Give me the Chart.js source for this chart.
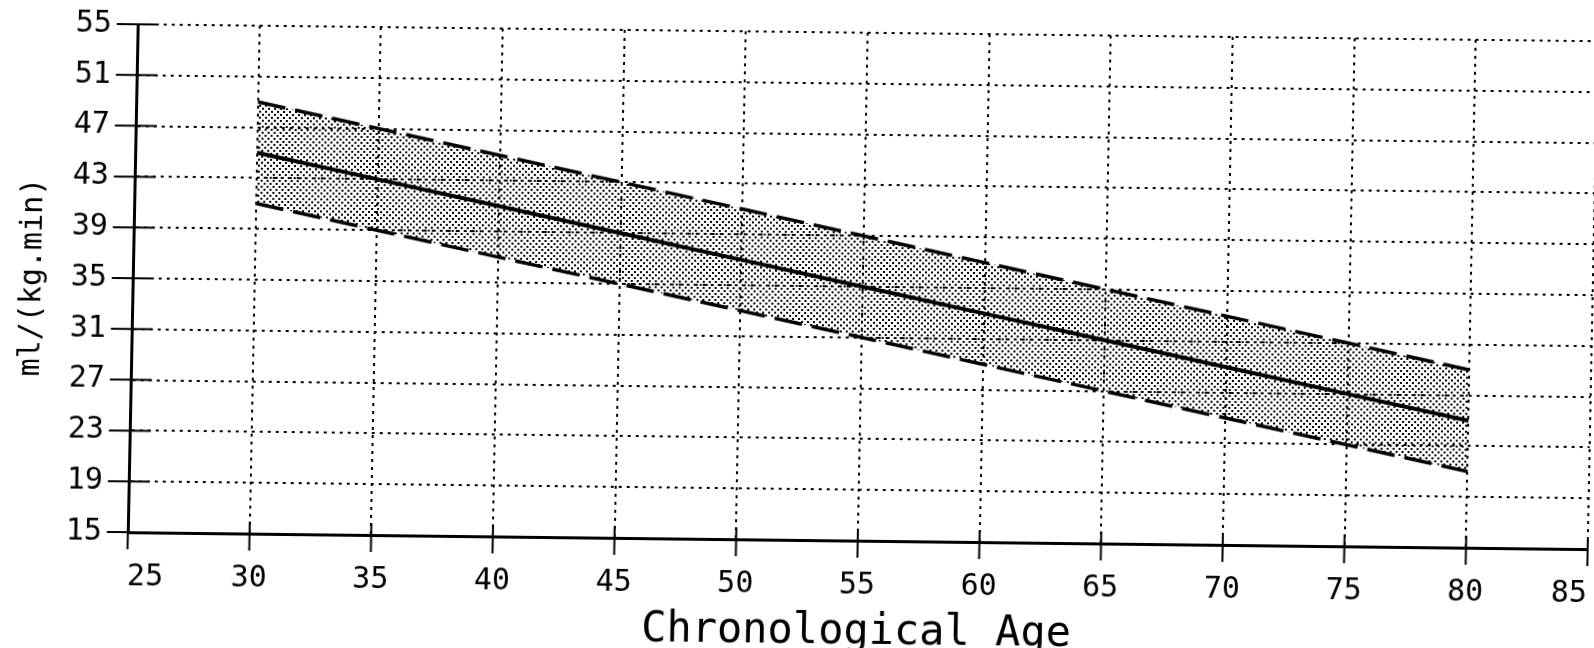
<!DOCTYPE html>
<html>
<head>
<meta charset="utf-8">
<script src="https://cdn.jsdelivr.net/npm/chart.js@4"></script>
<style>
  html, body { margin: 0; padding: 0; background: #fff; overflow: hidden; }
  /* the original is a slightly skewed scan */
  #wrap { width: 1594px; height: 648px; transform-origin: 797px 324px; transform: matrix(1, 0.0116, -0.0196, 1, 0, 0); }
</style>
</head>
<body>
<div id="wrap"><canvas id="chart"></canvas></div>
<script>
// values
const ages = [30, 35, 40, 45, 50, 55, 60, 65, 70, 75, 80];
const upperBand = [49, 47, 45, 43, 41, 39, 37, 35, 33, 31, 29];
const meanLine  = [45, 43, 41, 39, 37, 35, 33, 31, 29, 27, 25];
const lowerBand = [41, 39, 37, 35, 33, 31, 29, 27, 25, 23, 21];

const xMin = 25, xMax = 85, xStep = 5;
const yMin = 15, yMax = 55, yStep = 4;

const FONT = 'DejaVu Sans Mono';

// dotted screen for the band
function dotPattern() {
    const c = document.createElement('canvas');
    c.width = 6; c.height = 6;
    const g = c.getContext('2d');
    g.fillStyle = '#000';
    g.fillRect(0, 0, 2, 2);
    g.fillRect(3, 3, 2, 2);
    return document.getElementById('chart').getContext('2d').createPattern(c, 'repeat');
}

const pts = (vals) => ages.map((a, i) => ({ x: a, y: vals[i] }));

// tick marks crossing the axes, both sides
const crossTicks = {
    id: 'crossTicks',
    afterDraw(chart) {
        const { ctx, scales: { x, y } } = chart;
        ctx.save();
        ctx.strokeStyle = '#000';
        ctx.lineWidth = 2;
        ctx.beginPath();
        for (let v = yMin; v <= yMax; v += yStep) {
            const py = y.getPixelForValue(v);
            ctx.moveTo(x.left - 21, py);
            ctx.lineTo(x.left + 21, py);
        }
        for (let v = xMin; v <= xMax; v += xStep) {
            const px = x.getPixelForValue(v);
            ctx.moveTo(px, y.bottom + 17);
            ctx.lineTo(px, y.bottom - 12);
        }
        ctx.stroke();
        ctx.restore();
    }
};

new Chart(document.getElementById('chart'), {
    type: 'line',
    data: {
        datasets: [
            {
                data: pts(upperBand),
                borderColor: '#000',
                borderWidth: 3.5,
                borderDash: [28, 10],
                backgroundColor: dotPattern(),
                fill: 2,
                pointRadius: 0
            },
            {
                data: pts(meanLine),
                borderColor: '#000',
                borderWidth: 4,
                fill: false,
                pointRadius: 0
            },
            {
                data: pts(lowerBand),
                borderColor: '#000',
                borderWidth: 3.5,
                borderDash: [28, 10],
                fill: false,
                pointRadius: 0
            }
        ]
    },
    options: {
        responsive: true,
        maintainAspectRatio: false,
        animation: false,
        layout: { padding: { left: 14, right: 1, top: 32, bottom: 0 } },
        plugins: { legend: { display: false }, tooltip: { enabled: false } },
        scales: {
            x: {
                type: 'linear',
                min: xMin, max: xMax,
                ticks: {
                    stepSize: xStep,
                    align: 'inner',
                    maxRotation: 0,
                    padding: 0,
                    color: '#000',
                    font: { family: FONT, size: 30, lineHeight: 1 }
                },
                grid: {
                    color: '#000',
                    lineWidth: 2,
                    tickLength: 30,
                    tickColor: 'rgba(0,0,0,0)'
                },
                border: { display: true, color: '#000', width: 3, dash: [3, 5] },
                title: {
                    display: true,
                    text: 'Chronological Age',
                    color: '#000',
                    font: { family: FONT, size: 42, lineHeight: 0.75 },
                    padding: { top: 16.5, bottom: 0 }
                }
            },
            y: {
                min: yMin, max: yMax,
                ticks: {
                    stepSize: yStep,
                    padding: 0,
                    color: '#000',
                    font: { family: FONT, size: 30 }
                },
                grid: {
                    color: '#000',
                    lineWidth: 2,
                    tickLength: 26,
                    tickColor: 'rgba(0,0,0,0)'
                },
                border: { display: true, color: '#000', width: 3, dash: [3, 5] },
                title: {
                    display: true,
                    text: 'ml/(kg.min)',
                    color: '#000',
                    font: { family: FONT, size: 30, lineHeight: 1.2 },
                    padding: { top: 0, bottom: 20 }
                }
            }
        }
    },
    plugins: [crossTicks]
});
</script>
</body>
</html>
